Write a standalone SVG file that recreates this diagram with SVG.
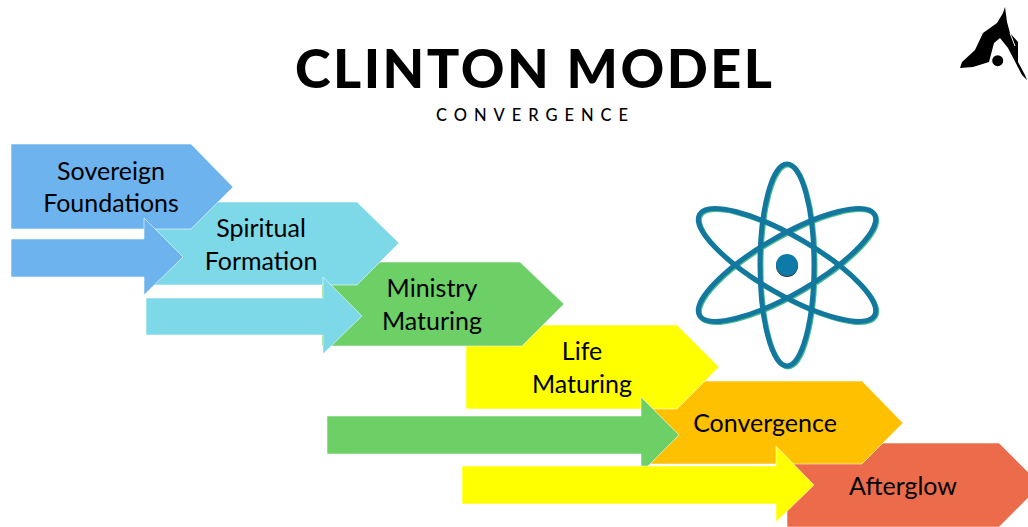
<svg xmlns="http://www.w3.org/2000/svg" width="1028" height="527" viewBox="0 0 1028 527">
<style>
.lbl{font-family:"Lato","Liberation Sans",sans-serif;font-size:25px;fill:#000;text-anchor:middle}
.s{stroke:#fff;stroke-opacity:.55;stroke-width:1}
.blue{fill:#6DB3EE}.cyan{fill:#7DD8E8}.green{fill:#6CD066}.yellow{fill:#FFFF00}.orange{fill:#FFC000}.red{fill:#EC6B4A}
.orb{fill:none;stroke:#12789F;stroke-width:5}
.orb2{fill:none;stroke:#4DBE8E;stroke-width:5}
</style>
<rect width="1028" height="527" fill="#fff"/>
<text x="295" y="88" font-family="Lato,'Liberation Sans',sans-serif" font-weight="900" font-size="54" fill="#000" textLength="477" lengthAdjust="spacing">CLINTON MODEL</text>
<text x="436" y="120.500" font-family="Lato,'Liberation Sans',sans-serif" font-weight="500" font-size="16.500" fill="#000" textLength="192" lengthAdjust="spacing">CONVERGENCE</text>
<g id="node-afterglow"><path class="s red" d="M787 443H999L1041 485L999 527H787Z"/><text class="lbl" x="903" y="495">Afterglow</text></g>
<g id="node-convergence"><path class="s orange" d="M641 381H862L903 423L862 464H641Z"/><text class="lbl" x="765" y="432">Convergence</text></g>
<g id="node-life"><path class="s yellow" d="M466 325H677L719 367L677 409H466Z"/><text class="lbl" x="582" y="360">Life</text><text class="lbl" x="582" y="393">Maturing</text></g>
<g id="node-ministry"><path class="s green" d="M322 262H520L564 304L522 346H322Z"/><text class="lbl" x="432" y="297">Ministry</text><text class="lbl" x="432" y="330">Maturing</text></g>
<g id="node-spiritual"><path class="s cyan" d="M146 202H357L399 243L357 285H146Z"/><text class="lbl" x="261" y="237">Spiritual</text><text class="lbl" x="261" y="270">Formation</text></g>
<g id="node-sovereign"><path class="s blue" d="M11 144H191L233 187L191 229H11Z"/><text class="lbl" x="111" y="180">Sovereign</text><text class="lbl" x="111" y="212">Foundations</text></g>
<g id="connectors">
<path class="s blue" d="M11 239H144V218L183 257L144 295V277H11Z"/>
<path class="s cyan" d="M146 298H323V277L362 316L323 354V335H146Z"/>
<path class="s green" d="M327 416H641V397L679 435L641 473V454H327Z"/>
<path class="s yellow" d="M462 466H776V446L814 485L776 522V504H462Z"/>
</g>
<g id="node-atom">
<g transform="translate(1 1)"><ellipse class="orb2" cx="787" cy="265" rx="27" ry="101"/><ellipse class="orb2" cx="787" cy="265" rx="29" ry="101" transform="rotate(60 787 265)"/><ellipse class="orb2" cx="787" cy="265" rx="29" ry="101" transform="rotate(-60 787 265)"/></g>
<ellipse class="orb" cx="787" cy="265" rx="27" ry="101"/>
<ellipse class="orb" cx="787" cy="265" rx="29" ry="101" transform="rotate(60 787 265)"/>
<ellipse class="orb" cx="787" cy="265" rx="29" ry="101" transform="rotate(-60 787 265)"/>
<circle cx="787" cy="266" r="11" fill="#333"/><circle cx="787" cy="265" r="11" fill="#0E7AA8"/>
</g>
<g id="node-logo"><path fill="#000" d="M1005 7L1003 13L997 23L983 33L975 50L962 62L960 68L973 67L989 62L994 43L1000 38L1008 48L1022 75L1027 80L1025 75L1018 62L1018 42L1010 33L1007 22Z"/><circle cx="997.700" cy="60.700" r="5.500" fill="#000"/><path d="M1010 33L1015 46" stroke="#fff" stroke-width="1" fill="none"/></g>
</svg>
